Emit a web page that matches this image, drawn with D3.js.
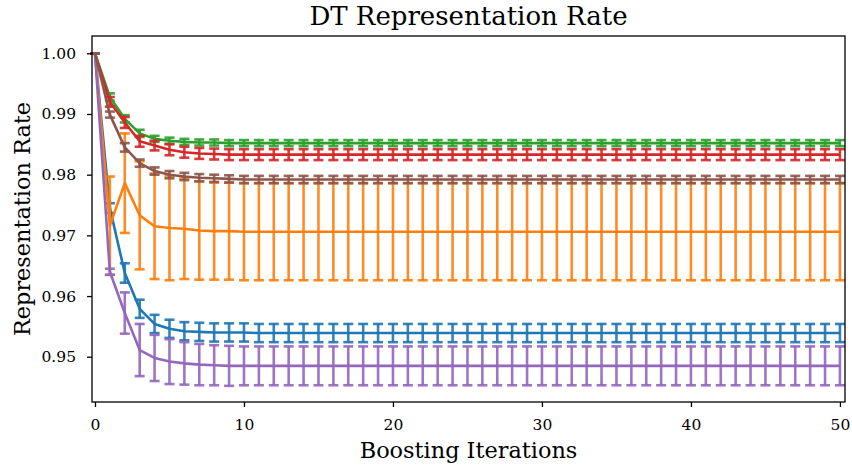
<!DOCTYPE html>
<html>
  <head>
    <meta charset="utf-8">
    <title>DT Representation Rate</title>
    <style>
      html, body { margin: 0; padding: 0; background: #ffffff; }
      svg text { font-family: "DejaVu Serif", serif; fill: #000; }
    </style>
  </head>
  <body>
    <script src="https://cdn.jsdelivr.net/npm/d3@7"></script>
    <div id="chart"></div>
    <script>

      // Mean representation rate per boosting iteration (0..50)
      var blueMean = [1.0000, 0.9745, 0.9638, 0.9579, 0.9554, 0.9546, 0.9542, 0.9541, 0.9540, 0.9540,
                      0.9540, 0.9539, 0.9539, 0.9539, 0.9539, 0.9539, 0.9539, 0.9539, 0.9539, 0.9539,
                      0.9539, 0.9539, 0.9539, 0.9539, 0.9539, 0.9539, 0.9539, 0.9539, 0.9539, 0.9539,
                      0.9539, 0.9539, 0.9539, 0.9539, 0.9539, 0.9539, 0.9539, 0.9539, 0.9539, 0.9539,
                      0.9539, 0.9539, 0.9539, 0.9539, 0.9539, 0.9539, 0.9539, 0.9539, 0.9539, 0.9539, 0.9539]
      var blueErr = [0, 0.0008, 0.0016, 0.0015, 0.0015, 0.0015, 0.0015, 0.0015, 0.0015, 0.0015,
                     0.0015, 0.0015, 0.0015, 0.0015, 0.0015, 0.0015, 0.0015, 0.0015, 0.0015, 0.0015,
                     0.0015, 0.0015, 0.0015, 0.0015, 0.0015, 0.0015, 0.0015, 0.0015, 0.0015, 0.0015,
                     0.0015, 0.0015, 0.0015, 0.0015, 0.0015, 0.0015, 0.0015, 0.0015, 0.0015, 0.0015,
                     0.0015, 0.0015, 0.0015, 0.0015, 0.0015, 0.0015, 0.0015, 0.0015, 0.0015, 0.0015, 0.0015]

      var orangeMean = [1.0000, 0.9716, 0.9786, 0.9733, 0.9715, 0.9712, 0.9711, 0.9708, 0.9707, 0.9707,
                        0.9706, 0.9706, 0.9706, 0.9706, 0.9706, 0.9706, 0.9706, 0.9706, 0.9706, 0.9706,
                        0.9706, 0.9706, 0.9706, 0.9706, 0.9706, 0.9706, 0.9706, 0.9706, 0.9706, 0.9706,
                        0.9706, 0.9706, 0.9706, 0.9706, 0.9706, 0.9706, 0.9706, 0.9706, 0.9706, 0.9706,
                        0.9706, 0.9706, 0.9706, 0.9706, 0.9706, 0.9706, 0.9706, 0.9706, 0.9706, 0.9706, 0.9706]
      var orangeErr = [0, 0.0081, 0.0082, 0.0089, 0.0087, 0.0086, 0.0083, 0.0081, 0.0080, 0.0080,
                       0.0080, 0.0080, 0.0080, 0.0080, 0.0080, 0.0080, 0.0080, 0.0080, 0.0080, 0.0080,
                       0.0080, 0.0080, 0.0080, 0.0080, 0.0080, 0.0080, 0.0080, 0.0080, 0.0080, 0.0080,
                       0.0080, 0.0080, 0.0080, 0.0080, 0.0080, 0.0080, 0.0080, 0.0080, 0.0080, 0.0080,
                       0.0080, 0.0080, 0.0080, 0.0080, 0.0080, 0.0080, 0.0080, 0.0080, 0.0080, 0.0080, 0.0080]

      var greenMean = [1.0000, 0.9928, 0.9892, 0.9868, 0.9859, 0.9856, 0.9854, 0.9853, 0.9853, 0.9852,
                       0.9852, 0.9852, 0.9852, 0.9852, 0.9852, 0.9852, 0.9852, 0.9852, 0.9852, 0.9852,
                       0.9852, 0.9852, 0.9852, 0.9852, 0.9852, 0.9852, 0.9852, 0.9852, 0.9852, 0.9852,
                       0.9852, 0.9852, 0.9852, 0.9852, 0.9852, 0.9852, 0.9852, 0.9852, 0.9852, 0.9852,
                       0.9852, 0.9852, 0.9852, 0.9852, 0.9852, 0.9852, 0.9852, 0.9852, 0.9852, 0.9852, 0.9852]
      var greenErr = [0, 0.0006, 0.0006, 0.0006, 0.0005, 0.0005, 0.0005, 0.0005, 0.0005, 0.0005,
                      0.0005, 0.0005, 0.0005, 0.0005, 0.0005, 0.0005, 0.0005, 0.0005, 0.0005, 0.0005,
                      0.0005, 0.0005, 0.0005, 0.0005, 0.0005, 0.0005, 0.0005, 0.0005, 0.0005, 0.0005,
                      0.0005, 0.0005, 0.0005, 0.0005, 0.0005, 0.0005, 0.0005, 0.0005, 0.0005, 0.0005,
                      0.0005, 0.0005, 0.0005, 0.0005, 0.0005, 0.0005, 0.0005, 0.0005, 0.0005, 0.0005, 0.0005]

      var redMean = [1.0000, 0.9920, 0.9886, 0.9855, 0.9848, 0.9841, 0.9837, 0.9835, 0.9834, 0.9833,
                     0.9833, 0.9833, 0.9833, 0.9833, 0.9833, 0.9833, 0.9833, 0.9833, 0.9833, 0.9833,
                     0.9833, 0.9833, 0.9833, 0.9833, 0.9833, 0.9833, 0.9833, 0.9833, 0.9833, 0.9833,
                     0.9833, 0.9833, 0.9833, 0.9833, 0.9833, 0.9833, 0.9833, 0.9833, 0.9833, 0.9833,
                     0.9833, 0.9833, 0.9833, 0.9833, 0.9833, 0.9833, 0.9833, 0.9833, 0.9833, 0.9833, 0.9833]
      var redErr = [0, 0.0008, 0.0009, 0.0009, 0.0008, 0.0009, 0.0009, 0.0009, 0.0009, 0.0009,
                    0.0009, 0.0009, 0.0009, 0.0009, 0.0009, 0.0009, 0.0009, 0.0009, 0.0009, 0.0009,
                    0.0009, 0.0009, 0.0009, 0.0009, 0.0009, 0.0009, 0.0009, 0.0009, 0.0009, 0.0009,
                    0.0009, 0.0009, 0.0009, 0.0009, 0.0009, 0.0009, 0.0009, 0.0009, 0.0009, 0.0009,
                    0.0009, 0.0009, 0.0009, 0.0009, 0.0009, 0.0009, 0.0009, 0.0009, 0.0009, 0.0009, 0.0009]

      var purpleMean = [1.0000, 0.9640, 0.9572, 0.9511, 0.9498, 0.9492, 0.9489, 0.9487, 0.9486, 0.9485,
                        0.9485, 0.9485, 0.9485, 0.9485, 0.9485, 0.9485, 0.9485, 0.9485, 0.9485, 0.9485,
                        0.9485, 0.9485, 0.9485, 0.9485, 0.9485, 0.9485, 0.9485, 0.9485, 0.9485, 0.9485,
                        0.9485, 0.9485, 0.9485, 0.9485, 0.9485, 0.9485, 0.9485, 0.9485, 0.9485, 0.9485,
                        0.9485, 0.9485, 0.9485, 0.9485, 0.9485, 0.9485, 0.9485, 0.9485, 0.9485, 0.9485, 0.9485]
      var purpleErr = [0, 0.0005, 0.0034, 0.0043, 0.0038, 0.0037, 0.0035, 0.0034, 0.0033, 0.0033,
                       0.0032, 0.0032, 0.0032, 0.0032, 0.0032, 0.0032, 0.0032, 0.0032, 0.0032, 0.0032,
                       0.0032, 0.0032, 0.0032, 0.0032, 0.0032, 0.0032, 0.0032, 0.0032, 0.0032, 0.0032,
                       0.0032, 0.0032, 0.0032, 0.0032, 0.0032, 0.0032, 0.0032, 0.0032, 0.0032, 0.0032,
                       0.0032, 0.0032, 0.0032, 0.0032, 0.0032, 0.0032, 0.0032, 0.0032, 0.0032, 0.0032, 0.0032]

      var brownMean = [1.0000, 0.9899, 0.9845, 0.9819, 0.9806, 0.9800, 0.9797, 0.9795, 0.9794, 0.9793,
                       0.9792, 0.9792, 0.9792, 0.9792, 0.9792, 0.9792, 0.9792, 0.9792, 0.9792, 0.9792,
                       0.9792, 0.9792, 0.9792, 0.9792, 0.9792, 0.9792, 0.9792, 0.9792, 0.9792, 0.9792,
                       0.9792, 0.9792, 0.9792, 0.9792, 0.9792, 0.9792, 0.9792, 0.9792, 0.9792, 0.9792,
                       0.9792, 0.9792, 0.9792, 0.9792, 0.9792, 0.9792, 0.9792, 0.9792, 0.9792, 0.9792, 0.9792]
      var brownErr = [0, 0.0005, 0.0007, 0.0006, 0.0006, 0.0006, 0.0006, 0.0006, 0.0006, 0.0006,
                      0.0006, 0.0006, 0.0006, 0.0006, 0.0006, 0.0006, 0.0006, 0.0006, 0.0006, 0.0006,
                      0.0006, 0.0006, 0.0006, 0.0006, 0.0006, 0.0006, 0.0006, 0.0006, 0.0006, 0.0006,
                      0.0006, 0.0006, 0.0006, 0.0006, 0.0006, 0.0006, 0.0006, 0.0006, 0.0006, 0.0006,
                      0.0006, 0.0006, 0.0006, 0.0006, 0.0006, 0.0006, 0.0006, 0.0006, 0.0006, 0.0006, 0.0006]

      var xTicks = [0, 10, 20, 30, 40, 50]
      var yTicks = [0.95, 0.96, 0.97, 0.98, 0.99, 1.00]

      // drawing order matters: later series sit on top
      var series = [
        {mean: blueMean, err: blueErr, color: '#1f77b4'},
        {mean: orangeMean, err: orangeErr, color: '#ff7f0e'},
        {mean: greenMean, err: greenErr, color: '#2ca02c'},
        {mean: redMean, err: redErr, color: '#d62728'},
        {mean: purpleMean, err: purpleErr, color: '#9467bd'},
        {mean: brownMean, err: brownErr, color: '#8c564b'}
      ]

      var W = 852, H = 465
      // plot frame (window.top is reserved, so no plain "top")
      var mLeft = 92, mRight = 845, mTop = 36, mBottom = 402

      var svg = d3.select('#chart')
        .append('svg')
        .attr('width', W)
        .attr('height', H)

      var x = d3.scaleLinear()
        .domain([-0.2, 50.34])
        .range([mLeft, mRight])

      var y = d3.scaleLinear()
        .domain([0.94254, 1.00285])
        .range([mBottom, mTop])

      var capHalf = 5

      // Series: error bars, caps, then the mean line
      series.forEach(function(s) {
        var g = svg.append('g')
        var pts = s.mean.map(function(m, i) { return {i: i, m: m, e: s.err[i]} })

        g.selectAll('line.bar')
          .data(pts)
          .enter()
          .append('line')
          .attr('x1', function(d) { return x(d.i) })
          .attr('x2', function(d) { return x(d.i) })
          .attr('y1', function(d) { return y(d.m + d.e) })
          .attr('y2', function(d) { return y(d.m - d.e) })
          .attr('stroke', s.color)
          .attr('stroke-width', 2.6)
          .attr('opacity', 0.9)

        // caps top and bottom
        ;[1, -1].forEach(function(sign) {
          g.selectAll('line.cap' + (sign > 0 ? 'a' : 'b'))
            .data(pts)
            .enter()
            .append('line')
            .attr('x1', function(d) { return x(d.i) - capHalf })
            .attr('x2', function(d) { return x(d.i) + capHalf })
            .attr('y1', function(d) { return y(d.m + sign * d.e) })
            .attr('y2', function(d) { return y(d.m + sign * d.e) })
            .attr('stroke', s.color)
            .attr('stroke-width', 2.6)
            .attr('opacity', 0.9)
        })

        g.append('path')
          .datum(pts)
          .attr('fill', 'none')
          .attr('stroke', s.color)
          .attr('stroke-width', 2.6)
          .attr('stroke-linejoin', 'round')
          .attr('d', d3.line()
            .x(function(d) { return x(d.i) })
            .y(function(d) { return y(d.m) }))
      })

      // hide cap halves that run past the right edge of the frame
      svg.append('rect')
        .attr('x', mRight + 0.7)
        .attr('y', 0)
        .attr('width', W - mRight)
        .attr('height', H)
        .attr('fill', '#fff')

      // Axes
      var xAxis = svg.append('g')
        .attr('transform', 'translate(0,' + mBottom + ')')
        .call(d3.axisBottom(x).tickValues(xTicks).tickSize(5).tickPadding(12).tickFormat(d3.format('d')))
      var yAxis = svg.append('g')
        .attr('transform', 'translate(' + mLeft + ',0)')
        .call(d3.axisLeft(y).tickValues(yTicks).tickSize(5).tickPadding(11).tickFormat(d3.format('.2f')))

      ;[xAxis, yAxis].forEach(function(a) {
        a.select('.domain').remove()
        a.selectAll('.tick line').attr('stroke', '#000').attr('stroke-width', 1.3)
        a.selectAll('.tick text')
          .style('font-family', 'DejaVu Serif')
          .style('font-size', '15.5px')
      })

      // frame
      svg.append('rect')
        .attr('x', mLeft)
        .attr('y', mTop)
        .attr('width', mRight - mLeft)
        .attr('height', mBottom - mTop)
        .attr('fill', 'none')
        .attr('stroke', '#000')
        .attr('stroke-width', 1.3)

      // Titles
      svg.append('text')
        .attr('x', (mLeft + mRight) / 2)
        .attr('y', 24.5)
        .attr('text-anchor', 'middle')
        .style('font-size', '26px')
        .text('DT Representation Rate')

      svg.append('text')
        .attr('x', (mLeft + mRight) / 2)
        .attr('y', 458)
        .attr('text-anchor', 'middle')
        .style('font-size', '22.4px')
        .text('Boosting Iterations')

      svg.append('text')
        .attr('transform', 'translate(30,' + ((mTop + mBottom) / 2) + ') rotate(-90)')
        .attr('text-anchor', 'middle')
        .style('font-size', '22.4px')
        .text('Representation Rate')

    </script>
  </body>
</html>
